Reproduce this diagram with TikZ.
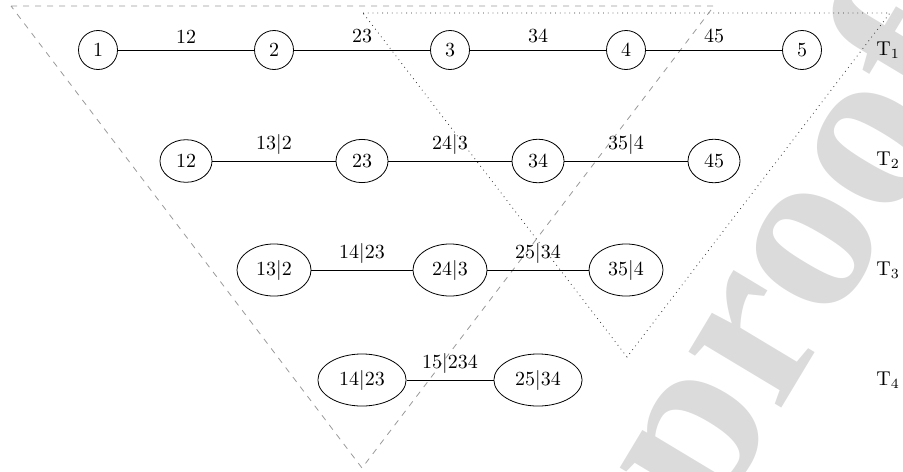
\documentclass[tikz,border=0pt]{standalone}
\usepackage{fontspec}
\newfontfamily\wmfont{Liberation Serif}
\usetikzlibrary{shapes.geometric}
\begin{document}
\begin{tikzpicture}[x=0.5pt,y=-0.5pt,
  cnode/.style={draw,circle,minimum size=19.5pt,inner sep=0pt},
  enode/.style={draw,ellipse,inner sep=4.2pt},
  lab/.style={above,inner sep=3.3pt},
  tri1/.style={draw=gray!80,dashed,line width=0.4pt},
  tri2/.style={draw=black!80,dotted,line width=0.4pt},
  wmark/.style={text=black!14,font=\wmfont\fontsize{118}{118}\selectfont\bfseries,rotate=59}]
\useasboundingbox (0,0) rectangle (903,471);
\begin{scope}
\clip (0,0) rectangle (903,471);
\node[wmark] (wm) at (802,262) {proof};
\end{scope}
% triangles
\coordinate (d1) at (11,6);
\coordinate (d2) at (714,6);
\coordinate (d3) at (362,468);
\draw[tri1] (d1) -- (d2) -- (d3) -- cycle;
\coordinate (p1) at (363,13);
\coordinate (p2) at (890,13);
\coordinate (p3) at (627,357);
\draw[tri2] (p1) -- (p2) -- (p3) -- cycle;
% row 1
\node[cnode] (a1) at (98,50) {1};
\node[cnode] (a2) at (274,50) {2};
\node[cnode] (a3) at (450,50) {3};
\node[cnode] (a4) at (626,50) {4};
\node[cnode] (a5) at (802,50) {5};
\draw (a1) -- node[lab] {12} (a2);
\draw (a2) -- node[lab] {23} (a3);
\draw (a3) -- node[lab] {34} (a4);
\draw (a4) -- node[lab] {45} (a5);
% row 2
\node[enode] (b1) at (186,161) {12};
\node[enode] (b2) at (362,161) {23};
\node[enode] (b3) at (538,161) {34};
\node[enode] (b4) at (714,161) {45};
\draw (b1) -- node[lab] {13$|$2} (b2);
\draw (b2) -- node[lab] {24$|$3} (b3);
\draw (b3) -- node[lab] {35$|$4} (b4);
% row 3
\node[enode] (c1) at (274,270) {13$|$2};
\node[enode] (c2) at (450,270) {24$|$3};
\node[enode] (c3) at (626,270) {35$|$4};
\draw (c1) -- node[lab] {14$|$23} (c2);
\draw (c2) -- node[lab] {25$|$34} (c3);
% row 4
\node[enode] (e1) at (362,380) {14$|$23};
\node[enode] (e2) at (538,380) {25$|$34};
\draw (e1) -- node[lab] {15$|$234} (e2);
% tree labels
\node (t1) at (888,50) {$\mathrm{T}_1$};
\node (t2) at (888,160) {$\mathrm{T}_2$};
\node (t3) at (888,270) {$\mathrm{T}_3$};
\node (t4) at (888,380) {$\mathrm{T}_4$};
\end{tikzpicture}
\end{document}
